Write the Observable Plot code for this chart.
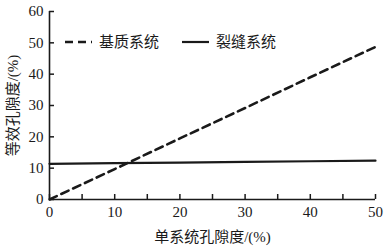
<!DOCTYPE html>
<html><head><meta charset="utf-8">
<script src="https://cdn.jsdelivr.net/npm/d3@7"></script>
<script src="https://cdn.jsdelivr.net/npm/@observablehq/plot@0.6"></script>
<style>
body{margin:0;background:#fff;}
#wrap{position:relative;width:389px;height:246px;font-family:"Liberation Serif","Noto Sans CJK SC",serif;color:#1a1a1a;}
#wrap svg text{font-family:"Liberation Serif","Noto Sans CJK SC",serif;}
.leg{position:absolute;top:33px;font-size:15px;line-height:18px;display:flex;align-items:center;}
.leg svg{margin-right:7px;}
</style></head>
<body><div id="wrap"></div>
<script>
const porosity = [0, 10, 20, 30, 40, 50];
const matrixSystem = [0, 9.7, 19.5, 29.2, 39.0, 48.7];
const fractureSystem = [11.4, 11.6, 11.8, 12.0, 12.2, 12.4];
const seriesNames = ["基质系统", "裂缝系统"];
const xTicks = [0, 10, 20, 30, 40, 50];
const xMinorTicks = [5, 15, 25, 35, 45];
const yTicks = [0, 10, 20, 30, 40, 50, 60];

const rows = porosity.flatMap((p, i) => [
  {x: p, y: matrixSystem[i], s: seriesNames[0]},
  {x: p, y: fractureSystem[i], s: seriesNames[1]}
]);

const ink = "#1a1a1a";
const ff = "Liberation Serif, Noto Sans CJK SC, serif";
const xBase = 0, yBase = 0;
const chart = Plot.plot({
  width: 389, height: 246,
  marginLeft: 49, marginRight: 14, marginTop: 11, marginBottom: 47,
  style: {fontSize: "15px", color: ink, background: "#fff"},
  x: {domain: [0, 50]},
  y: {domain: [0, 60]},
  marks: [
    Plot.axisX({ticks: xTicks, tickSize: 0, tickPadding: 7, fontSize: 15, fontFamily: ff, label: "单系统孔隙度/(%)", labelAnchor: "center", labelArrow: "none", labelOffset: 42}),
    Plot.axisY({ticks: yTicks, tickSize: 0, tickPadding: 6, fontSize: 15, fontFamily: ff, label: "等效孔隙度/(%)", labelAnchor: "center", labelArrow: "none", labelOffset: 42}),
    // inward tick marks
    Plot.ruleX(xTicks.concat(xMinorTicks), {x: d => d, y1: yBase, y2: yBase, insetBottom: 5, stroke: ink, strokeWidth: 1.5}),
    Plot.ruleY(yTicks, {y: d => d, x1: xBase, x2: xBase, insetRight: -5, stroke: ink, strokeWidth: 1.5}),
    Plot.ruleX([xBase], {stroke: ink, strokeWidth: 1.6}),
    Plot.ruleY([yBase], {stroke: ink, strokeWidth: 1.6}),
    Plot.line(rows.filter(d => d.s === seriesNames[0]), {x: "x", y: "y", stroke: ink, strokeWidth: 2.6, strokeDasharray: "8,5"}),
    Plot.line(rows.filter(d => d.s === seriesNames[1]), {x: "x", y: "y", stroke: ink, strokeWidth: 2.2})
  ]
});
const wrap = document.getElementById("wrap");
wrap.appendChild(chart);

const legendItems = [
  {name: seriesNames[0], dash: "8,5", w: 2.6, left: 65},
  {name: seriesNames[1], dash: null, w: 2.2, left: 182}
];
for (const it of legendItems) {
  const d = document.createElement("div");
  d.className = "leg";
  d.style.left = it.left + "px";
  d.innerHTML = `<svg width="27" height="6"><line x1="0" y1="3" x2="27" y2="3" stroke="${ink}" stroke-width="${it.w}" ${it.dash ? `stroke-dasharray="${it.dash}"` : ""}/></svg><span>${it.name}</span>`;
  wrap.appendChild(d);
}
</script></body></html>
